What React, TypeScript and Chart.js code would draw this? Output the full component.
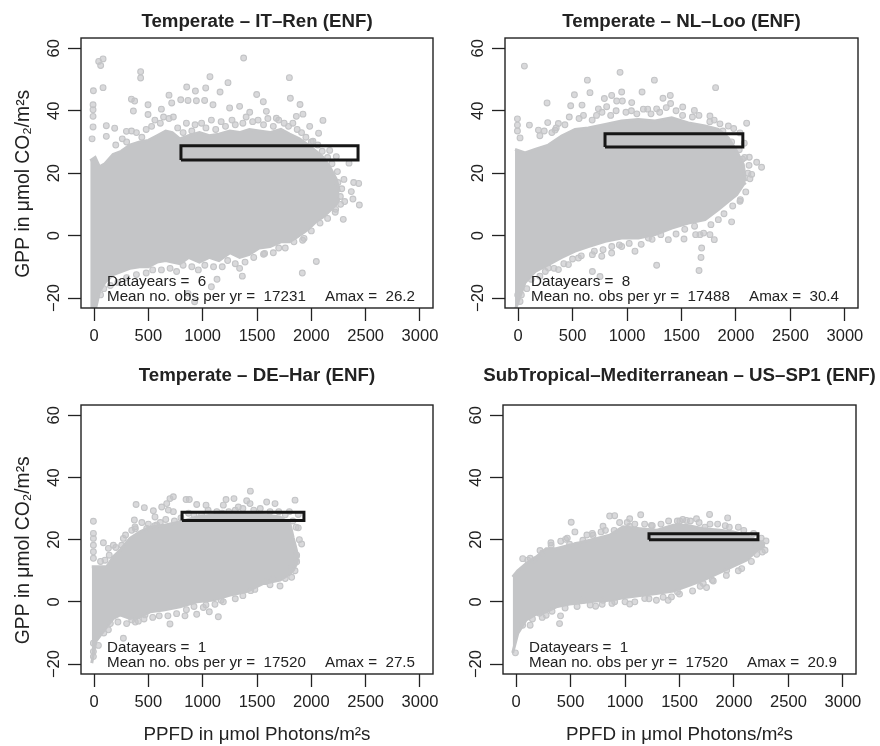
import React, { useEffect, useRef } from "react";
import { Chart, registerables } from "chart.js";

Chart.register(...registerables);

const xTicks = [0, 500, 1000, 1500, 2000, 2500, 3000];
const yTicks = [-20, 0, 20, 40, 60];
const xTitle = "PPFD in μmol Photons/m²s";
const yTitle = "GPP in μmol CO₂/m²s\u00a0\u00a0\u00a0\u00a0";

// IT-Ren
const itRenX = [-35, 10, 50, 100, 175, 250, 330, 420, 500, 580, 660, 720, 790, 870, 970, 1060, 1150, 1250, 1340, 1430, 1520, 1620, 1720, 1800, 1890, 1970, 2045, 2110, 2170, 2230, 2260];
const itRenUpper = [24, 25, 22, 23, 26, 27, 29, 30, 30.5, 32, 33.5, 33, 31, 32, 33, 32, 32.5, 33.5, 33, 34, 33.5, 33, 34, 32.5, 31, 29, 27, 25, 22, 18, 14];
const itRenLower = [-24, -24, -18, -15, -12.5, -11.5, -10.5, -10, -10, -8.5, -8, -8.5, -9, -7, -8.5, -7, -8, -5.5, -7, -6, -4, -3.5, -2, -2, 0, 2, 4.5, 6, 8, 10, 12];
const itRenRectX = [800, 2430, 2430, 800, 800];
const itRenRectY = [24.2, 24.2, 28.8, 28.8, 24.2];
const itRenPoints = [
  [43, 55.8], [83, 56.6], [61, 54.5], [-6, 46.4], [83, 47.4], [429, 52.5], [429, 50.5], [1377, 56.9], [1067, 50.9], [1233, 49],
  [1798, 50.6], [853, 47.6], [933, 46.3], [1028, 47.3], [1160, 46], [1497, 45.2], [1558, 42.9], [1807, 44], [1896, 42], [690, 45],
  [344, 43.7], [374, 43.1], [497, 41.9], [362, 39.9], [497, 38.8], [798, 43.5], [865, 43.3], [942, 43.2], [1018, 43.3], [1095, 41.9],
  [620, 40.5], [715, 42.5], [1248, 40.9], [1340, 41.4], [1433, 39.5], [1586, 39.8], [1678, 37.6], [1862, 38.2], [1923, 38.9], [2107, 36.9],
  [1985, 35], [2067, 32.8], [2015, 30.2], [2169, 27.3], [2230, 25.3], [2347, 23.2], [2300, 18], [2245, 17], [2390, 17], [2436, 16.7],
  [2368, 14.1], [2383, 11.7], [2442, 9.8], [2267, 12.5], [2307, 10.9], [2224, 8.4], [2294, 5.2], [1933, -0.9], [2046, -8.3], [1917, -12],
  [1570, -5.7], [1365, -13], [1340, -10.5], [1132, -14], [1080, -16.4], [926, -21.2], [865, -18.5], [-18, 31], [-9, 40.3], [-9, 41.9],
  [-9, 38.2], [-9, 34.8], [113, 35.2], [190, 34.4], [113, 31.8], [298, 33.4],
];
const itRenFringe = [
  [200, 29], [260, 31], [300, 30], [345, 33.5], [390, 33], [440, 31.5], [480, 34], [530, 35], [560, 37], [610, 36], [640, 38], [690, 37.5], [730, 38], [770, 34.5], [820, 33], [850, 36], [900, 33.5], [930, 35.5], [990, 36], [1030, 34.5], [1080, 37], [1120, 34], [1170, 36.5], [1210, 35], [1270, 37], [1300, 35.5], [1370, 36], [1400, 38], [1460, 36.5], [1510, 37], [1560, 35.5], [1600, 37.5], [1650, 35], [1700, 37], [1750, 36], [1790, 35], [1830, 36], [1870, 34], [1910, 33], [1950, 31.5], [2000, 30], [2060, 29], [2100, 27], [2150, 25], [2190, 23], [2240, 20.5], [2280, 15],
  [60, -19], [90, -17], [150, -16], [220, -15], [300, -13.5], [390, -12.5], [480, -12], [540, -11], [620, -11], [700, -10.5], [760, -11.5], [820, -9.5], [900, -10], [960, -11], [1020, -9.5], [1100, -10], [1180, -10], [1230, -8], [1300, -9], [1390, -8.5], [1470, -7], [1560, -6], [1650, -5.5], [1700, -4], [1760, -4], [1840, -2], [1920, -1.5], [2000, 1.5], [2080, 4], [2150, 5.5], [2220, 7.5], [2270, 10],
];

// NL-Loo
const nlLooX = [-28, 64, 156, 278, 400, 523, 645, 800, 950, 1104, 1257, 1410, 1563, 1716, 1838, 1930, 2006, 2067, 2089];
const nlLooUpper = [27.6, 26.5, 27.6, 29, 31.9, 34, 34.5, 35.6, 36.7, 37.2, 36.7, 37.7, 36.1, 35.1, 34, 31.3, 27, 22.8, 17.4];
const nlLooLower = [-24, -15, -11.5, -9.3, -7, -5, -3.5, -1.8, -0.8, -0.8, 0.3, 2.4, 4, 5.1, 8.3, 11, 13.1, 16.3, 17];
const nlLooRectX = [798, 2063, 2063, 798, 798];
const nlLooRectY = [28.4, 28.4, 32.6, 32.6, 28.4];
const nlLooPoints = [
  [58, 54.3], [936, 52.3], [1251, 49.8], [636, 49.8], [1813, 47.4], [517, 45.1], [660, 45.8], [266, 42.5], [483, 41.6], [587, 41.8],
  [951, 46], [1138, 46], [859, 44.9], [792, 43.9], [1330, 44], [1397, 44.9], [1400, 42.3], [905, 43.1], [957, 43.1], [1043, 42.6],
  [813, 41.3], [737, 40.6], [1190, 40.5], [1272, 40.6], [1511, 41.2], [1618, 40.1], [1761, 38.3], [1853, 35.8], [1930, 35.1], [1979, 34.3],
  [2098, 36], [2037, 32.9], [2076, 29.6], [-6, 37.4], [-6, 35.4], [-6, 33.5], [104, 35.4], [272, 36.2], [18, 31.3], [187, 33.8],
  [370, 35.9], [340, 33.8], [2122, 25.1], [2190, 23.5], [2235, 21.9], [2144, 19.6], [2128, 18.2], [2037, 11], [1960, 4.4], [1838, 5.1],
  [1670, 0.3], [1703, 0.8], [1761, 0.3], [1801, -1.3], [1523, -1.1], [1379, -1.3], [1630, 0.3], [1685, -4], [1679, -7], [1661, -11.2],
  [1272, -9.5], [1196, -0.8], [1073, -5], [951, -3.5], [859, -5.6], [768, -6.6], [682, -6.1], [682, -11.5], [752, -13.1], [554, -7.2],
  [462, -9.3], [370, -10.9], [278, -10.4], [-3, -19], [18, -21.1],
];
const nlLooFringe = [
  [200, 32], [240, 33.5], [310, 33], [350, 34.5], [430, 35.5], [470, 38], [560, 37.5], [600, 38.5], [680, 37], [720, 38.5], [770, 39.5], [850, 38.5], [900, 40], [990, 39.5], [1040, 40], [1090, 39], [1150, 40.5], [1220, 39], [1300, 39.5], [1360, 41], [1450, 40], [1510, 38.5], [1600, 38], [1660, 38.5], [1760, 36.5], [1800, 37], [1880, 33.5], [1960, 30], [2030, 27.5], [2080, 25], [2110, 20], [2120, 22.5], [2060, 24.5],
  [30, -19], [80, -17], [120, -14], [200, -13], [250, -11.5], [330, -10.5], [420, -9], [500, -7.5], [580, -6.5], [700, -5], [780, -4.5], [860, -3.5], [930, -3], [1020, -2.5], [1130, -2.8], [1230, -1.2], [1310, 0.3], [1450, 0.5], [1530, 2], [1620, 3], [1770, 3.5], [1890, 7], [1970, 9.5], [2040, 11.5], [2090, 14],
];

// DE-Har
const deHarX = [-21, 15, 117, 178, 239, 331, 423, 515, 638, 791, 945, 1098, 1252, 1405, 1558, 1712, 1804, 1834, 1860, 1880];
const deHarUpper = [11.3, 11.3, 11.3, 14.5, 16.6, 20.4, 22.5, 24, 24.6, 25.7, 27.3, 27.9, 27.9, 28.4, 27.9, 27.3, 25, 20.5, 17, 14];
const deHarLower = [-19.7, -12.8, -8, -5.3, -4.2, -5.3, -4.8, -3.2, -2.6, -1.6, 0, 0.6, 2.2, 3.3, 5.9, 7, 9, 10.2, 12, 14];
const deHarRectX = [810, 1932, 1932, 810, 810];
const deHarRectY = [26.2, 26.2, 28.8, 28.8, 26.2];
const deHarPoints = [
  [-6, 25.9], [-6, 22], [-6, 20.4], [-6, 18.2], [-6, 16.1], [-6, 14], [387, 31.3], [463, 30.3], [546, 29.3], [623, 30.5],
  [669, 31.6], [699, 33.2], [730, 33.8], [847, 32.9], [877, 32.9], [945, 31.3], [1031, 31.1], [1215, 32.9], [1288, 33.2], [1439, 35.6],
  [1405, 32.5], [1436, 31.6], [1589, 32.1], [1666, 31.6], [1850, 32.7], [1798, 29], [1880, 28.1], [1328, 30.5], [1190, 31.1], [730, 29],
  [684, 29.5], [371, 26.3], [377, 24.1], [561, 27.3], [577, 24.7], [485, 23.6], [347, 23], [270, 20.4], [255, 18.2], [86, 19],
  [132, 17.2], [178, 18.2], [101, 13.4], [1880, 23.8], [1911, 18.6], [1865, 15], [1865, 12.9], [1819, 10.8], [1819, 7.9], [1712, 5.1],
  [1650, 7.5], [1574, 6.5], [1442, 3.6], [1190, 0], [1113, -0.8], [1061, -3.2], [1006, -1.8], [1144, -4.8], [945, -4], [837, -4.5],
  [469, -4.2], [408, -6.2], [347, -5.8], [699, -7.1], [132, -9], [270, -11.7], [-6, -13.3], [-6, -16], [-6, -17.6],
];
const deHarFringe = [
  [60, 13], [140, 15], [200, 17.5], [290, 21.5], [380, 23.5], [440, 25.5], [500, 25], [560, 24.5], [610, 25.5], [660, 26.5], [740, 26], [800, 27], [870, 28.5], [920, 28], [990, 28], [1050, 29.5], [1130, 29], [1180, 28.5], [1240, 29], [1300, 29.5], [1370, 30], [1470, 29.5], [1530, 30], [1620, 29], [1700, 29], [1760, 28], [1830, 26], [1860, 24], [1890, 20],
  [40, -14], [90, -10], [150, -7], [220, -6.5], [300, -7], [380, -6.5], [460, -5.5], [540, -5], [600, -4.5], [680, -4.5], [760, -3.8], [850, -2.5], [920, -1.5], [1030, -1], [1170, 0.5], [1300, 1], [1370, 2], [1480, 4], [1620, 5.5], [1760, 7.5], [1850, 10],
];

// US-SP1
const usSp1X = [-31, 15, 92, 184, 276, 368, 491, 613, 736, 859, 982, 1135, 1288, 1442, 1564, 1718, 1871, 1994, 2117, 2209, 2285];
const usSp1Upper = [8, 10, 12.3, 14.4, 17.1, 17.1, 18.2, 19.3, 20.3, 21.4, 24.1, 23.5, 23, 24.6, 24.6, 23.5, 23, 22.5, 21.4, 19.8, 18.7];
const usSp1Lower = [-16.4, -10.2, -5.8, -4, -3.2, -1.6, -0.7, -0.2, 0.3, 0.5, 1.3, 2, 2.7, 3.5, 5, 7, 9.5, 11.5, 13.5, 16.5, 18];
const usSp1RectX = [1220, 2220, 2220, 1220, 1220];
const usSp1RectY = [20, 20, 21.9, 21.9, 20];
const usSp1Points = [
  [506, 25.6], [540, 22.5], [454, 20.1], [859, 27.6], [905, 27.7], [1043, 26.7], [1144, 28], [1776, 28.1], [1942, 27], [1957, 24],
  [1656, 26.7], [1503, 26], [1564, 26.2], [798, 24.3], [1043, 24.3], [1242, 24.6], [1733, 24], [322, 18.2], [491, 18.5], [558, 18.2],
  [613, 19.8], [706, 21.4], [61, 13.9], [107, 13.4], [169, 13.4], [245, 15.7], [2294, 19.6], [2285, 16.6], [2209, 15.3], [2202, 18.2],
  [2071, 10.7], [1933, 10.2], [1810, 6.7], [1748, 4.6], [1718, 5.9], [1482, 3.2], [1426, 1.6], [1396, 0.5], [1288, 0.5], [1181, 1.1],
  [1043, -0.7], [905, 0], [798, 0.5], [730, -1.4], [613, 0.5], [408, -4.5], [399, -7], [129, -7.5], [276, -4.3], [215, -3.7], [-6, -16.4],
];
const usSp1Fringe = [
  [130, 14], [220, 16.5], [320, 19], [410, 19.5], [470, 20.5], [650, 21.5], [700, 22], [780, 22.5], [820, 23], [900, 23], [950, 25.5], [1020, 25.5], [1090, 25], [1180, 25], [1250, 24.5], [1330, 25], [1400, 26], [1480, 26], [1530, 26.5], [1600, 26], [1680, 25.5], [1780, 25], [1850, 25], [1920, 24.5], [2040, 24], [2090, 23], [2180, 22], [2250, 20.5],
  [60, -7.5], [150, -5.5], [240, -5], [330, -3], [450, -2], [560, -1.5], [680, -1], [790, -0.8], [880, -0.5], [1000, 0], [1090, 0], [1220, 1], [1350, 1.5], [1500, 2.5], [1620, 3.5], [1690, 5], [1800, 7], [1930, 8.5], [2040, 10], [2160, 13], [2260, 16],
];

const GREY = "#c4c5c7";
const INK = "#222222";
const FONT = "'Liberation Sans', Arial, sans-serif";

const panels = [
  { title: "Temperate – IT–Ren (ENF)", years: 6, obs: 17231, amax: "26.2", xs: itRenX, upper: itRenUpper, lower: itRenLower, rectX: itRenRectX, rectY: itRenRectY, points: itRenPoints, fringe: itRenFringe, left: 0, top: 0, plotW: 352, height: 354, plotBottom: 308, topPad: 6, xAxisTitle: false, yAxisTitle: true },
  { title: "Temperate – NL–Loo (ENF)", years: 8, obs: 17488, amax: "30.4", xs: nlLooX, upper: nlLooUpper, lower: nlLooLower, rectX: nlLooRectX, rectY: nlLooRectY, points: nlLooPoints, fringe: nlLooFringe, left: 424, top: 0, plotW: 353, height: 354, plotBottom: 308, topPad: 6, xAxisTitle: false, yAxisTitle: false },
  { title: "Temperate – DE–Har (ENF)", years: 1, obs: 17520, amax: "27.5", xs: deHarX, upper: deHarUpper, lower: deHarLower, rectX: deHarRectX, rectY: deHarRectY, points: deHarPoints, fringe: deHarFringe, left: 0, top: 354, plotW: 352, height: 392, plotBottom: 320, topPad: 19, xAxisTitle: true, yAxisTitle: true },
  { title: "SubTropical–Mediterranean – US–SP1 (ENF)", years: 1, obs: 17520, amax: "20.9", xs: usSp1X, upper: usSp1Upper, lower: usSp1Lower, rectX: usSp1RectX, rectY: usSp1RectY, points: usSp1Points, fringe: usSp1Fringe, left: 422, top: 354, plotW: 353, height: 392, plotBottom: 320, topPad: 19, xAxisTitle: true, yAxisTitle: false },
];

type Panel = (typeof panels)[number];

function Plot({ p }: { p: Panel }) {
  const ref = useRef<HTMLCanvasElement>(null);
  const width = 81 + p.plotW + 81;
  useEffect(() => {
    const frame = {
      id: "frame",
      afterDatasetsDraw(chart: any) {
        const { ctx, chartArea: a } = chart;
        ctx.save();
        ctx.strokeStyle = INK;
        ctx.lineWidth = 1.4;
        ctx.strokeRect(a.left, a.top, a.right - a.left, a.bottom - a.top);
        ctx.fillStyle = INK;
        ctx.font = `15.2px ${FONT}`;
        ctx.textBaseline = "middle";
        ctx.textAlign = "left";
        ctx.fillText(`Datayears =  ${p.years}`, a.left + 26, a.bottom - 26);
        ctx.fillText(`Mean no. obs per yr =  ${p.obs}`, a.left + 26, a.bottom - 11);
        ctx.textAlign = "right";
        ctx.fillText(`Amax =  ${p.amax}`, a.left + 334, a.bottom - 11);
        ctx.restore();
      },
    };
    const chart = new Chart(ref.current!, {
      type: "scatter",
      data: {
        datasets: [
          {
            label: "Amax box",
            data: p.rectX.map((x, i) => ({ x, y: p.rectY[i] })),
            showLine: true,
            borderColor: "#161616",
            borderWidth: 3,
            borderJoinStyle: "miter",
            pointRadius: 0,
            fill: false,
            order: 0,
          },
          {
            label: "Isolated observations",
            data: [...p.points, ...p.fringe].map(([x, y]) => ({ x, y })),
            pointRadius: 2.9,
            pointBackgroundColor: "rgba(196,197,199,0.65)",
            pointBorderColor: GREY,
            pointBorderWidth: 1.1,
            order: 1,
          },
          {
            label: "Dense observations (upper edge)",
            data: p.xs.map((x, i) => ({ x, y: p.upper[i] })),
            showLine: true,
            borderColor: GREY,
            backgroundColor: GREY,
            borderWidth: 3,
            pointRadius: 0,
            fill: "+1",
            order: 2,
          },
          {
            label: "Dense observations (lower edge)",
            data: p.xs.map((x, i) => ({ x, y: p.lower[i] })),
            showLine: true,
            borderColor: GREY,
            borderWidth: 3,
            pointRadius: 0,
            fill: false,
            order: 3,
          },
        ],
      } as any,
      options: {
        animation: false,
        responsive: false,
        events: [],
        plugins: {
          legend: { display: false },
          tooltip: { enabled: false },
          title: {
            display: true,
            text: p.title,
            color: INK,
            font: { family: FONT, size: 18.7, weight: "bold", lineHeight: 1.07 },
            padding: { top: 12, bottom: p.topPad },
          },
        },
        scales: {
          x: {
            type: "linear",
            min: -120,
            max: 3120,
            afterBuildTicks: (s: any) => { s.ticks = xTicks.map((value) => ({ value })); },
            afterFit: (s: any) => { s.height = p.height - p.plotBottom; },
            ticks: {
              color: INK,
              padding: 6,
              maxRotation: 0,
              autoSkip: false,
              font: { family: FONT, size: 16.5 },
              callback: (v: any) => String(v),
            },
            grid: { drawOnChartArea: false, tickLength: 13, tickColor: INK, tickWidth: 1.3 },
            border: { display: false },
            title: {
              display: p.xAxisTitle,
              text: xTitle,
              color: INK,
              font: { family: FONT, size: 18.8, lineHeight: 1.2 },
              padding: { top: 0, bottom: 0 },
            },
          },
          y: {
            type: "linear",
            min: -23.2,
            max: 63.3,
            afterBuildTicks: (s: any) => { s.ticks = yTicks.map((value) => ({ value })); },
            afterFit: (s: any) => { s.width = 81; },
            ticks: {
              color: INK,
              padding: 0,
              minRotation: 90,
              maxRotation: 90,
              crossAlign: "center",
              autoSkip: false,
              font: { family: FONT, size: 16.5 },
              callback: (v: any) => String(v).replace("-", "−"),
            },
            grid: { drawOnChartArea: false, tickLength: 13, tickColor: INK, tickWidth: 1.3 },
            border: { display: false },
            title: {
              display: p.yAxisTitle,
              text: yTitle,
              color: INK,
              font: { family: FONT, size: 19.3, lineHeight: 1.2 },
              padding: { top: 12, bottom: 12 },
            },
          },
          balance: {
            type: "linear",
            position: "right",
            min: 0,
            max: 1,
            afterFit: (s: any) => { s.width = 81; },
            ticks: { display: false },
            grid: { display: false },
            border: { display: false },
          },
        },
      } as any,
      plugins: [frame],
    });
    return () => chart.destroy();
  }, [p]);
  return (
    <canvas
      ref={ref}
      width={width}
      height={p.height}
      style={{ position: "absolute", left: p.left, top: p.top, width, height: p.height }}
    />
  );
}

export default function App() {
  return (
    <div style={{ position: "absolute", left: 0, top: 0, width: 880, height: 746, background: "#fff", overflow: "hidden" }}>
      {panels.map((p) => (
        <Plot key={p.title} p={p} />
      ))}
    </div>
  );
}
